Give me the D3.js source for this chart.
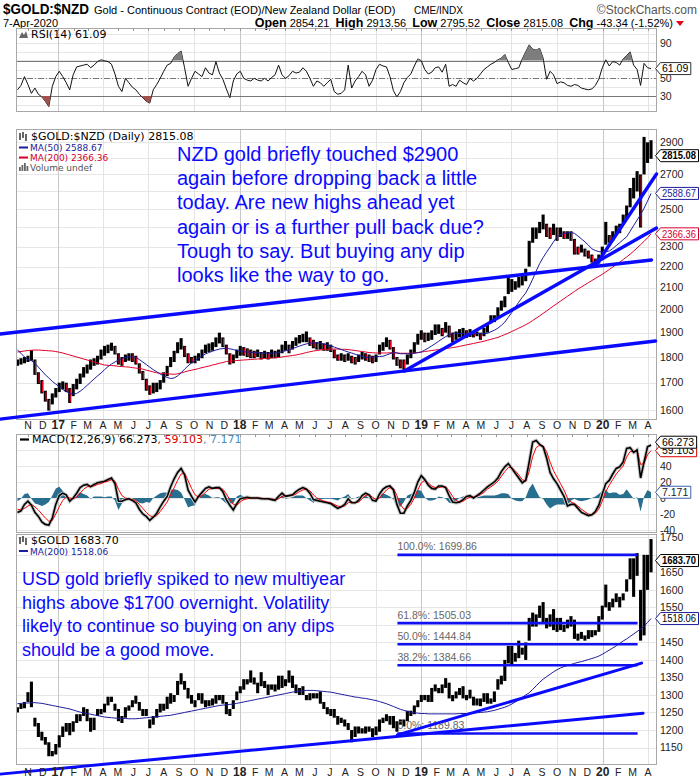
<!DOCTYPE html>
<html><head><meta charset="utf-8">
<script src="https://cdn.jsdelivr.net/npm/d3@7/dist/d3.min.js"></script>
<style>html,body{margin:0;padding:0;background:#fff;}svg{display:block;}</style>
</head><body>
<svg id="chart" width="700" height="780"></svg>
<script>
// ================= DATA (weekly samples, last one = 7-Apr-2020) =================
const lastDate = "2020-04-07";
const nzdHigh = [
1790,1795,1800,1805,1828,1790,1740,1710,1670,1640,
1660,1680,1700,1705,1700,1680,1695,1715,1735,1760,
1770,1790,1795,1805,1830,1845,1850,1858,1845,1815,
1800,1810,1815,1815,1805,1775,1745,1715,1690,1700,
1700,1710,1740,1765,1800,1825,1860,1877,1845,1815,
1800,1805,1815,1830,1850,1855,1860,1880,1900,1880,
1850,1815,1810,1830,1845,1840,1835,1830,1825,1830,
1820,1825,1820,1830,1825,1830,1850,1865,1850,1865,
1880,1890,1895,1905,1880,1870,1860,1865,1855,1860,
1850,1830,1810,1815,1810,1815,1805,1800,1810,1820,
1815,1810,1805,1810,1850,1860,1880,1870,1840,1800,
1790,1790,1810,1830,1860,1895,1910,1900,1900,1910,
1935,1935,1920,1945,1930,1900,1905,1915,1920,1910,
1915,1900,1905,1900,1920,1935,1975,1975,2010,2040,
2060,2150,2140,2130,2150,2160,2190,2330,2400,2400,
2430,2470,2420,2400,2420,2400,2400,2380,2380,2380,
2340,2300,2310,2290,2280,2260,2240,2260,2300,2430,
2360,2380,2410,2420,2470,2520,2620,2680,2720,2700,
2935,2900,2913.56];
const nzdLow = [
1765,1770,1775,1780,1785,1730,1695,1660,1630,1598,
1620,1645,1665,1675,1665,1625,1650,1675,1695,1720,
1735,1750,1765,1770,1790,1805,1815,1825,1810,1770,
1765,1780,1785,1780,1770,1735,1710,1670,1655,1660,
1665,1675,1700,1725,1760,1780,1815,1830,1800,1775,
1775,1775,1785,1795,1815,1820,1825,1840,1855,1840,
1810,1770,1775,1795,1805,1805,1800,1795,1795,1800,
1790,1795,1790,1795,1795,1800,1815,1825,1815,1830,
1845,1855,1860,1860,1845,1835,1830,1830,1825,1825,
1820,1795,1785,1785,1780,1785,1775,1770,1780,1790,
1785,1780,1775,1780,1810,1825,1840,1830,1790,1765,
1755,1750,1770,1795,1815,1850,1870,1860,1865,1870,
1890,1895,1885,1900,1880,1860,1870,1880,1880,1878,
1882,1880,1885,1870,1885,1900,1940,1945,1960,1995,
2010,2070,2080,2090,2100,2110,2130,2200,2320,2340,
2370,2390,2350,2340,2360,2330,2350,2340,2340,2330,
2260,2260,2270,2250,2240,2220,2200,2215,2250,2310,
2320,2330,2360,2370,2420,2450,2510,2560,2600,2400,
2700,2770,2795.52];
const nzdMA50 = [
1828,1815,1800,1790,1785,1775,1760,1745,1730,1718,
1705,1695,1685,1675,1667,1660,1657,1660,1668,1678,
1690,1702,1714,1726,1737,1750,1762,1772,1780,1788,
1794,1798,1801,1801,1798,1790,1780,1770,1760,1750,
1742,1733,1726,1720,1716,1718,1726,1738,1752,1765,
1776,1786,1795,1804,1812,1818,1823,1828,1832,1834,
1835,1833,1830,1826,1823,1821,1820,1819,1818,1817,
1816,1815,1815,1815,1816,1818,1821,1825,1829,1834,
1839,1844,1849,1853,1856,1858,1858,1856,1853,1849,
1845,1840,1835,1830,1825,1820,1816,1811,1806,1802,
1798,1799,1800,1801,1802,1803,1808,1813,1818,1816,
1813,1813,1813,1813,1815,1817,1820,1828,1836,1845,
1854,1864,1874,1883,1891,1898,1897,1896,1896,1896,
1896,1896,1896,1896,1896,1897,1904,1910,1919,1931,
1945,1966,1987,2010,2033,2055,2075,2105,2140,2178,
2215,2245,2272,2298,2325,2350,2362,2368,2372,2373,
2369,2355,2340,2325,2308,2289,2280,2275,2273,2274,
2278,2290,2305,2320,2336,2351,2380,2410,2440,2470,
2505,2545,2588.67];
const nzdMA200 = [
1820,1822,1824,1826,1827,1828,1828,1827,1826,1825,
1824,1822,1819,1816,1812,1808,1804,1800,1796,1792,
1788,1784,1780,1776,1772,1768,1767,1766,1765,1763,
1762,1761,1760,1758,1756,1755,1752,1748,1745,1741,
1738,1736,1735,1734,1733,1732,1734,1737,1741,1745,
1748,1751,1754,1758,1761,1764,1768,1771,1775,1778,
1782,1783,1784,1786,1787,1788,1789,1790,1791,1792,
1793,1794,1795,1796,1797,1798,1800,1802,1804,1806,
1808,1811,1814,1818,1821,1824,1826,1828,1830,1831,
1832,1832,1832,1831,1831,1830,1828,1826,1824,1822,
1820,1818,1817,1816,1816,1816,1816,1817,1817,1816,
1815,1815,1815,1815,1816,1818,1820,1822,1824,1826,
1828,1830,1832,1834,1836,1838,1840,1843,1846,1849,
1852,1855,1858,1861,1864,1868,1872,1876,1880,1886,
1892,1898,1905,1912,1919,1926,1934,1942,1952,1962,
1972,1983,1994,2005,2016,2027,2038,2049,2060,2071,
2082,2093,2103,2113,2123,2133,2143,2153,2163,2174,
2186,2198,2210,2222,2235,2248,2262,2277,2293,2310,
2327,2346,2366.36];
const rsi14 = [
37,42,52,43,33,39,32,29,24,18,
41,52,58,52,45,37,54,63,64,65,
66,62,65,69,71,70,69,66,55,41,
35,50,45,40,37,32,28,24,22,37,
43,50,58,65,67,74,78,81,62,41,
50,58,55,52,62,56,54,69,56,49,
38,28,47,55,58,50,48,47,50,48,
47,50,47,51,54,65,54,50,53,58,
56,57,62,58,50,41,47,45,41,45,
49,35,32,33,37,65,39,47,52,58,
54,41,48,60,66,64,63,52,36,29,
35,45,51,55,64,72,70,60,55,57,
62,63,57,66,41,43,41,48,45,43,
50,47,50,55,60,63,66,68,71,73,
77,68,60,61,62,72,80,88,83,82,
84,73,49,58,54,44,46,45,42,41,
43,42,39,38,37,38,42,49,62,71,
64,69,68,65,72,76,80,65,60,42,
67,62,61.09];
const macdLine = [
-18,-16,-8,-4,-9,-18,-23,-30,-33,-34,
-25,-8,3,6,4,-4,0,6,13,16,
17,14,17,19,20,21,23,25,18,-4,
-4,-2,-1,-3,-6,-14,-20,-23,-28,-24,
-19,-11,-4,2,14,24,32,37,29,10,
2,-5,2,7,12,14,12,13,13,8,
-2,-9,-15,-7,-1,0,1,0,0,0,
-1,-1,-1,-2,-3,2,6,2,3,4,
8,11,13,11,6,-2,-3,-4,-5,-6,
-7,-10,-13,-11,-8,-1,-6,-6,-3,3,
6,4,-3,-4,5,11,14,15,10,-8,
-19,-19,-10,-3,7,20,28,23,16,12,
11,15,15,13,3,-5,-6,-5,-2,2,
3,0,3,6,10,14,17,20,25,33,
39,43,37,31,25,19,22,45,70,72,
67,64,50,32,24,18,10,2,-10,-8,
-8,-13,-18,-20,-22,-21,-17,-9,5,18,
22,30,37,39,45,62,63,57,60,25,
45,64,66.273];
const macdSignal = [
-14,-15,-13,-10,-8,-11,-15,-20,-25,-29,
-28,-20,-11,-3,1,0,-1,1,6,11,
14,15,15,17,18,20,21,23,21,11,
3,0,-1,-2,-3,-8,-13,-18,-22,-24,
-22,-17,-11,-5,4,13,22,30,31,22,
12,4,1,3,7,11,12,12,12,11,
5,-2,-8,-9,-5,-2,-1,0,0,0,
0,-1,-1,-1,-2,-1,2,3,3,3,
5,8,10,11,9,4,0,-2,-4,-5,
-6,-8,-10,-11,-10,-6,-5,-6,-5,-1,
3,4,1,-2,0,5,10,13,12,3,
-8,-14,-13,-8,0,10,19,22,19,15,
13,13,14,14,9,2,-3,-5,-4,-1,
1,1,2,4,7,11,14,17,21,27,
33,38,38,34,29,23,21,33,52,63,
66,65,58,45,34,26,18,10,0,-5,
-7,-10,-14,-17,-20,-21,-19,-14,-4,8,
16,23,30,35,40,51,58,58,59,42,
43,54,59.103];
const usdHigh = [
1265,1275,1280,1308,1338,1235,1220,1195,1180,1165,
1140,1160,1185,1210,1220,1220,1225,1245,1245,1265,
1260,1235,1235,1260,1260,1275,1295,1295,1275,1260,
1240,1265,1270,1285,1298,1280,1260,1260,1230,1240,
1260,1275,1275,1295,1305,1300,1340,1362,1340,1320,
1300,1285,1305,1305,1285,1285,1290,1300,1300,1300,
1280,1260,1285,1310,1325,1345,1345,1370,1350,1335,
1365,1340,1330,1330,1330,1355,1355,1345,1370,1355,
1330,1320,1325,1300,1305,1305,1305,1310,1280,1265,
1260,1260,1240,1235,1230,1220,1200,1210,1210,1205,
1210,1210,1205,1210,1230,1235,1245,1240,1240,1225,
1230,1230,1255,1255,1270,1285,1300,1300,1300,1320,
1330,1320,1330,1348,1335,1300,1310,1320,1325,1300,
1315,1295,1290,1290,1305,1305,1290,1310,1345,1355,
1400,1440,1440,1420,1455,1435,1450,1520,1535,1530,
1555,1565,1520,1530,1545,1520,1520,1500,1515,1525,
1515,1475,1480,1470,1485,1485,1485,1525,1555,1615,
1565,1575,1590,1580,1590,1630,1690,1690,1705,1600,
1700,1700,1745];
const usdLow = [
1250,1260,1262,1280,1265,1210,1180,1170,1158,1125,
1125,1130,1150,1180,1195,1185,1195,1220,1225,1240,
1225,1195,1200,1240,1245,1250,1270,1280,1255,1225,
1220,1235,1255,1265,1275,1255,1240,1240,1205,1215,
1235,1250,1255,1260,1275,1280,1300,1330,1315,1290,
1275,1265,1285,1275,1265,1268,1270,1275,1285,1275,
1245,1240,1260,1285,1305,1315,1330,1335,1330,1305,
1325,1320,1300,1315,1310,1315,1320,1325,1335,1320,
1305,1300,1300,1285,1285,1290,1290,1275,1260,1245,
1240,1235,1215,1220,1210,1200,1165,1180,1190,1190,
1190,1195,1180,1185,1195,1220,1225,1215,1205,1195,
1215,1210,1225,1240,1245,1265,1280,1285,1280,1280,
1310,1305,1305,1320,1290,1282,1290,1300,1290,1285,
1290,1270,1270,1268,1280,1275,1275,1280,1315,1330,
1340,1390,1385,1395,1405,1415,1400,1455,1495,1495,
1520,1505,1490,1495,1485,1480,1485,1480,1490,1495,
1460,1455,1460,1455,1460,1465,1470,1480,1515,1550,
1540,1550,1565,1550,1570,1595,1630,1580,1640,1455,
1470,1600,1650];
const usdMA200 = [
1275,1276,1277,1277,1278,1278,1277,1276,1274,1272,
1270,1268,1266,1264,1262,1260,1257,1254,1251,1249,
1247,1245,1243,1241,1239,1237,1236,1235,1234,1233,
1233,1233,1232,1232,1232,1233,1234,1235,1236,1237,
1238,1239,1240,1241,1242,1244,1246,1248,1250,1252,
1254,1256,1258,1260,1262,1264,1266,1268,1270,1271,
1272,1273,1274,1276,1278,1280,1282,1284,1286,1288,
1290,1292,1294,1296,1298,1300,1302,1304,1306,1308,
1310,1311,1312,1313,1313,1313,1312,1311,1310,1309,
1308,1306,1304,1302,1300,1298,1296,1294,1293,1291,
1290,1288,1286,1284,1281,1278,1275,1271,1267,1263,
1259,1256,1253,1251,1249,1248,1247,1247,1246,1246,
1246,1246,1246,1246,1246,1246,1246,1247,1247,1247,
1248,1248,1249,1250,1251,1252,1254,1256,1259,1262,
1265,1269,1274,1280,1286,1293,1300,1306,1316,1326,
1336,1345,1352,1359,1366,1372,1377,1381,1384,1387,
1390,1393,1395,1398,1401,1404,1407,1411,1416,1422,
1428,1434,1440,1447,1454,1460,1467,1474,1481,1488,
1496,1507,1518.06];

const monthLetters = ["J","F","M","A","M","J","J","A","S","O","N","D"];
const rsiTicks = [30,50,70,90];
const rsiGrid = [10,20,30,40,50,60,70,80,90,100];
const nzdTicks = [1600,1700,1800,1900,2000,2100,2200,2300,2400,2500,2600,2700,2800,2900];
const macdTicks = [-40,-20,0,20,40,60];
const macdGrid = [-40,-20,0,20,40,60];
const usdTicks = [1150,1200,1250,1300,1350,1400,1450,1500,1550,1600,1650,1700,1750];

// hand-drawn trend lines: [startDate, startValue, endDate, endValue]
const nzdTrendLines = [
  ["2016-09-06",1894,"2020-04-08",2233],
  ["2016-09-06",1568,"2020-04-16",1865],
  ["2018-11-28",1745,"2020-04-18",2397],
  ["2019-12-17",2203,"2020-04-18",2703]];
const usdTrendLines = [
  ["2016-09-06",1074,"2020-03-22",1248],
  ["2018-11-14",1186,"2020-03-19",1391]];
const fibLabels = ["100.0%","61.8%","50.0%","38.2%","0.0%"];
const fibValues = [1699.86,1505.03,1444.84,1384.66,1189.83];
const fibSpan = ["2018-11-14","2020-03-11"];

const nzdNote = ["NZD gold briefly touched $2900","again before dropping back a little","today. Are new highs ahead yet","again or is a further pull back due?","Tough to say. But buying any dip","looks like the way to go."];
const usdNote = ["USD gold briefly spiked to new multiyear","highs above $1700 overnight. Volatility","likely to continue so buying on any dips","should be a good move."];

// ================= DRAWING =================
const svg = d3.select("#chart");
svg.append("rect").attr("width",700).attr("height",780).attr("fill","#fff");
const parse = d3.timeParse("%Y-%m-%d");
const N = nzdHigh.length;
const endD = parse(lastDate);
const dates = d3.range(N).map(i => d3.timeDay.offset(endD, -7*(N-1-i)));
const L = 16, R = 656;
const x = d3.scaleTime().domain([parse("2016-10-08"), parse("2020-04-17")]).range([L, R]);
const P = {rsi:{t:28,b:111}, main:{t:129,b:419}, macd:{t:434,b:532}, usd:{t:534,b:764}};
const yR = d3.scaleLinear().domain([30,70]).range([96,60.7]);
const yM = d3.scaleLog().domain([1600,2900]).range([410,142.3]);
const yD = d3.scaleLinear().domain([-40,40]).range([530,466]);
const yU = d3.scaleLinear().domain([1150,1750]).range([747.5,537.3]);
const AX = "'Liberation Sans', Arial, sans-serif";
const LG = "'DejaVu Sans', Verdana, sans-serif";
const quarters = d3.timeMonth.every(3).range(x.domain()[0], x.domain()[1]);
const months = d3.timeMonth.range(x.domain()[0], x.domain()[1]);
const defs = svg.append("defs");

function panel(p, ys, grid, ticks, id, hide){
  defs.append("clipPath").attr("id", id).append("rect")
    .attr("x", L).attr("y", p.t).attr("width", R-L).attr("height", p.b-p.t);
  const g = svg.append("g");
  g.selectAll(null).data(grid.filter(v => ys(v) > p.t+0.5 && ys(v) < p.b-0.5)).join("line")
    .attr("x1", L).attr("x2", R).attr("y1", d => Math.round(ys(d))+0.5).attr("y2", d => Math.round(ys(d))+0.5)
    .attr("stroke", "#e6e6e6");
  g.selectAll(null).data(quarters).join("line")
    .attr("x1", d => Math.round(x(d))+0.5).attr("x2", d => Math.round(x(d))+0.5).attr("y1", p.t).attr("y2", p.b)
    .attr("stroke", d => d.getMonth() === 0 ? "#c8c8c8" : "#e3e3e3");
  const shown = ticks.filter(v => !(hide||[]).some(h => Math.abs(ys(v) - h) < 9));
  svg.append("g").selectAll(null).data(shown).join("text")
    .attr("x", 660).attr("y", d => ys(d)).attr("dy", "0.36em")
    .attr("font-family", AX).attr("font-size", 10.5).attr("fill", "#222").text(d => d);
}
function frame(p){
  svg.append("rect").attr("x", L+0.5).attr("y", p.t+0.5).attr("width", R-L).attr("height", p.b-p.t)
    .attr("fill", "none").attr("stroke", "#a8a8a8");
}
function monthTicks(p){
  svg.append("g").selectAll(null).data(months).join("line")
    .attr("x1", d => Math.round(x(d))+0.5).attr("x2", d => Math.round(x(d))+0.5)
    .attr("y1", p.t).attr("y2", p.t+3).attr("stroke", "#999");
}
function xLabels(yb){
  svg.append("g").selectAll(null).data(months).join("text")
    .attr("x", d => x(d)).attr("y", yb).attr("text-anchor", "middle")
    .attr("font-family", AX)
    .attr("font-size", d => d.getMonth() === 0 ? 12 : 10.5)
    .attr("font-weight", d => d.getMonth() === 0 ? "bold" : "normal")
    .attr("fill", "#222")
    .text(d => d.getMonth() === 0 ? String(d.getFullYear()).slice(2) : monthLetters[d.getMonth()]);
}
function tag(y, txt, color, bold, txtColor){
  const g = svg.append("g");
  const t = g.append("text").attr("x", 662).attr("y", y).attr("dy", "0.36em")
    .attr("font-family", AX).attr("font-size", 10.5).attr("font-weight", bold ? "bold" : "normal")
    .attr("fill", txtColor || color).text(txt);
  let w = t.node().getComputedTextLength();
  if (w > 34) { t.attr("textLength", 34).attr("lengthAdjust", "spacingAndGlyphs"); w = 34; }
  g.insert("path", "text").attr("d", `M655.5,${y} L660.5,${y-6} H${664.5+w} V${y+6} H660.5 Z`)
    .attr("fill", "#fff").attr("stroke", color).attr("stroke-width", 1);
}
const lineOf = (ys) => d3.line().x((v,i) => x(dates[i])).y(v => ys(v));

// ---------- header ----------
svg.append("text").attr("x", 3).attr("y", 14).attr("font-family", AX).attr("font-size", 14.5)
  .attr("font-weight", "bold").attr("fill", "#000").attr("textLength", 86).attr("lengthAdjust","spacingAndGlyphs").text("$GOLD:$NZD");
svg.append("text").attr("x", 94).attr("y", 13.5).attr("font-family", AX).attr("font-size", 11)
  .attr("fill", "#000").text("Gold - Continuous Contract (EOD)/New Zealand Dollar (EOD)");
svg.append("text").attr("x", 414).attr("y", 13.5).attr("font-family", AX).attr("font-size", 10)
  .attr("fill", "#000").text("CME/INDX");
svg.append("text").attr("x", 697).attr("y", 13.5).attr("text-anchor", "end").attr("font-family", AX)
  .attr("font-size", 12).attr("fill", "#555").text("\u00A9StockCharts.com");
svg.append("text").attr("x", 3).attr("y", 26.5).attr("font-family", AX).attr("font-size", 11)
  .attr("fill", "#000").text("7-Apr-2020");
const ohlc = svg.append("text").attr("x", 673).attr("y", 26.5).attr("text-anchor", "end")
  .attr("font-family", AX).attr("font-size", 11).attr("fill", "#000");
[["Open"," 2854.21  "],["High"," 2913.56  "],["Low"," 2795.52  "],["Close"," 2815.08  "],["Chg"," -43.34 (-1.52%)"]]
  .forEach(([a,b]) => { ohlc.append("tspan").attr("font-weight","bold").attr("font-size",12.5).text(a);
                        ohlc.append("tspan").attr("xml:space","preserve").text(b); });
svg.append("path").attr("d", "M676,21 L684,21 L680,26 Z").attr("fill", "#e0001b");

// ---------- RSI panel ----------
panel(P.rsi, yR, rsiGrid, rsiTicks, "clipR", [yR(61.09)]);
const gr = svg.append("g").attr("clip-path", "url(#clipR)");
defs.append("clipPath").attr("id","clipR70").append("rect").attr("x",L).attr("y",P.rsi.t).attr("width",R-L).attr("height",yR(70)-P.rsi.t);
defs.append("clipPath").attr("id","clipR30").append("rect").attr("x",L).attr("y",yR(30)).attr("width",R-L).attr("height",P.rsi.b-yR(30));
const rsiArea = (base) => d3.area().x((v,i) => x(dates[i])).y0(yR(base)).y1(v => yR(v));
svg.append("path").datum(rsi14).attr("clip-path","url(#clipR70)").attr("d", rsiArea(70)).attr("fill", "#7d7d7d");
svg.append("path").datum(rsi14).attr("clip-path","url(#clipR30)").attr("d", rsiArea(30)).attr("fill", "#a4504f");
[70,30].forEach(v => gr.append("line").attr("x1",L).attr("x2",R).attr("y1",Math.round(yR(v))+0.5).attr("y2",Math.round(yR(v))+0.5).attr("stroke","#777"));
gr.append("line").attr("x1",L).attr("x2",R).attr("y1",Math.round(yR(50))+0.5).attr("y2",Math.round(yR(50))+0.5)
  .attr("stroke","#777").attr("stroke-dasharray","6,2,1,2");
gr.append("path").datum(rsi14).attr("d", lineOf(yR)).attr("fill","none").attr("stroke","#111").attr("stroke-width",1);
frame(P.rsi); monthTicks(P.rsi);
svg.append("path").attr("d","M19,38 L22,32 L24,35 L26,31 L28,38 Z").attr("fill","#666");
svg.append("text").attr("x",31).attr("y",38).attr("font-family",LG).attr("font-size",11).attr("fill","#000").text("RSI(14) 61.09");
tag(yR(61.09), "61.09", "#333", false, "#000");

// ---------- main NZD panel ----------
panel(P.main, yM, nzdTicks, nzdTicks, "clipM", [yM(2815.08), yM(2588.67), yM(2366.36)]);
const gm = svg.append("g").attr("clip-path", "url(#clipM)");
gm.selectAll(null).data(dates).join("line")
  .attr("x1", d => x(d)).attr("x2", d => x(d))
  .attr("y1", (d,i) => yM(nzdHigh[i])).attr("y2", (d,i) => yM(nzdLow[i]))
  .attr("stroke", "#000").attr("stroke-width", 3.1);
const downIdx = d3.range(1, N).filter(i => (nzdHigh[i]+nzdLow[i]) < (nzdHigh[i-1]+nzdLow[i-1]));
gm.selectAll(null).data(downIdx).join("line")
  .attr("x1", i => x(dates[i])+0.6).attr("x2", i => x(dates[i])+0.6)
  .attr("y1", i => yM(nzdHigh[i]) + 1).attr("y2", i => yM(nzdLow[i]) - 1)
  .attr("stroke", "#e8001c").attr("stroke-width", 1.1);
gm.append("path").datum(nzdMA200).attr("d", lineOf(yM)).attr("fill","none").attr("stroke","#e0002a").attr("stroke-width",1);
gm.append("path").datum(nzdMA50).attr("d", lineOf(yM)).attr("fill","none").attr("stroke","#1c1c9c").attr("stroke-width",1);
frame(P.main);
svg.append("g").selectAll(null).data(nzdTrendLines).join("line")
  .attr("x1", d => x(parse(d[0]))).attr("y1", d => yM(d[1]))
  .attr("x2", d => x(parse(d[2]))).attr("y2", d => yM(d[3]))
  .attr("stroke", "#0a0aff").attr("stroke-width", 3.4).attr("stroke-linecap","round");
// legend
const ic = svg.append("g").attr("stroke","#000").attr("stroke-width",1.2);
[[20,133,140],[23,132,138],[26,134,141]].forEach(([a,b,c]) => ic.append("line").attr("x1",a).attr("x2",a).attr("y1",b).attr("y2",c));
svg.append("text").attr("x",31).attr("y",140).attr("font-family",LG).attr("font-size",11).attr("fill","#000").text("$GOLD:$NZD (Daily) 2815.08");
svg.append("line").attr("x1",19).attr("x2",28).attr("y1",147.5).attr("y2",147.5).attr("stroke","#1c1c9c").attr("stroke-width",2);
svg.append("text").attr("x",30).attr("y",151).attr("font-family",LG).attr("font-size",9).attr("fill","#1c1c9c").text("MA(50) 2588.67");
svg.append("line").attr("x1",19).attr("x2",28).attr("y1",157.5).attr("y2",157.5).attr("stroke","#d6002e").attr("stroke-width",2);
svg.append("text").attr("x",30).attr("y",161).attr("font-family",LG).attr("font-size",9).attr("fill","#d6002e").text("MA(200) 2366.36");
[[19,167],[21.5,165],[24,163],[26.5,166]].forEach(([a,b]) => svg.append("rect").attr("x",a).attr("y",b).attr("width",1.8).attr("height",171-b).attr("fill","#666"));
svg.append("text").attr("x",30).attr("y",171).attr("font-family",LG).attr("font-size",9).attr("fill","#555").text("Volume undef");
// note
svg.append("g").selectAll(null).data(nzdNote).join("text")
  .attr("x",177).attr("y",(d,i) => 161 + i*24.2)
  .attr("font-family",AX).attr("font-size",20).attr("fill","#0a0aff").text(d => d);
tag(yM(2366.36), "2366.36", "#d6002e", false);
tag(yM(2588.67), "2588.67", "#1c1c9c", false);
tag(yM(2815.08), "2815.08", "#000", true);
xLabels(429);

// ---------- MACD panel ----------
panel(P.macd, yD, macdGrid, macdTicks, "clipD", [yD(59.103), yD(66.273)-3]);
const gd = svg.append("g").attr("clip-path","url(#clipD)");
gd.append("path").datum(macdLine.map((v,i) => v - macdSignal[i]))
  .attr("d", d3.area().x((v,i) => x(dates[i])).y0(yD(0)).y1(v => yD(v)))
  .attr("fill","#286e8e");
gd.append("path").datum(macdLine).attr("d", lineOf(yD)).attr("fill","none").attr("stroke","#c8c8c8").attr("stroke-width",3.6);
gd.append("path").datum(macdSignal).attr("d", lineOf(yD)).attr("fill","none").attr("stroke","#ff0000").attr("stroke-width",1);
gd.append("path").datum(macdLine).attr("d", lineOf(yD)).attr("fill","none").attr("stroke","#000").attr("stroke-width",1.6);
frame(P.macd); monthTicks(P.macd);
svg.append("line").attr("x1",20).attr("x2",29).attr("y1",439.5).attr("y2",439.5).attr("stroke","#000").attr("stroke-width",2.2);
const mt = svg.append("text").attr("x",32).attr("y",443).attr("font-family",LG).attr("font-size",11);
mt.append("tspan").attr("fill","#000").text("MACD(12,26,9) 66.273");
mt.append("tspan").attr("fill","#e00000").text(", 59.103");
mt.append("tspan").attr("fill","#4a8fc0").text(", 7.171");
tag(yD(7.171), "7.171", "#3a62a8", false, "#222");
tag(yD(59.103), "59.103", "#e00000", false, "#000");
tag(Math.min(yD(66.273), yD(59.103)-8.5), "66.273", "#000", false, "#000");

// ---------- USD panel ----------
panel(P.usd, yU, usdTicks, usdTicks, "clipU", [yU(1683.70), yU(1518.06)]);
const gu = svg.append("g").attr("clip-path","url(#clipU)");
gu.selectAll(null).data(dates).join("line")
  .attr("x1", d => x(d)).attr("x2", d => x(d))
  .attr("y1", (d,i) => yU(usdHigh[i])).attr("y2", (d,i) => yU(usdLow[i]))
  .attr("stroke","#000").attr("stroke-width",3.1);
gu.append("path").datum(usdMA200).attr("d", lineOf(yU)).attr("fill","none").attr("stroke","#1c1c9c").attr("stroke-width",1);
frame(P.usd);
// fib retracement
const fx0 = x(parse(fibSpan[0])), fx1 = x(parse(fibSpan[1]));
svg.append("g").selectAll(null).data(fibValues).join("line")
  .attr("x1", fx0).attr("x2", fx1).attr("y1", d => yU(d)).attr("y2", d => yU(d))
  .attr("stroke","#1010f0").attr("stroke-width",2.6);
svg.append("g").selectAll(null).data(fibValues).join("text")
  .attr("x", fx0).attr("y", d => yU(d) - 4.5)
  .attr("font-family",AX).attr("font-size",10.5).attr("fill","#666")
  .text((d,i) => fibLabels[i] + ": " + d.toFixed(2));
svg.append("g").selectAll(null).data(usdTrendLines).join("line")
  .attr("x1", d => x(parse(d[0]))).attr("y1", d => yU(d[1]))
  .attr("x2", d => x(parse(d[2]))).attr("y2", d => yU(d[3]))
  .attr("stroke","#0a0aff").attr("stroke-width",3).attr("stroke-linecap","round");
const ic2 = svg.append("g").attr("stroke","#000").attr("stroke-width",1.2);
[[20,537,544],[23,536,542],[26,538,545]].forEach(([a,b,c]) => ic2.append("line").attr("x1",a).attr("x2",a).attr("y1",b).attr("y2",c));
svg.append("text").attr("x",31).attr("y",544).attr("font-family",LG).attr("font-size",11).attr("fill","#000").text("$GOLD 1683.70");
svg.append("line").attr("x1",19).attr("x2",28).attr("y1",551).attr("y2",551).attr("stroke","#1c1c9c").attr("stroke-width",2);
svg.append("text").attr("x",30).attr("y",554.5).attr("font-family",LG).attr("font-size",9).attr("fill","#1c1c9c").text("MA(200) 1518.06");
svg.append("g").selectAll(null).data(usdNote).join("text")
  .attr("x",22).attr("y",(d,i) => 585 + i*23.7)
  .attr("font-family",AX).attr("font-size",18).attr("fill","#0a0aff").text(d => d);
tag(yU(1518.06), "1518.06", "#1c1c9c", false, "#000");
tag(yU(1683.70), "1683.70", "#000", true);
xLabels(776);
</script>
</body></html>
